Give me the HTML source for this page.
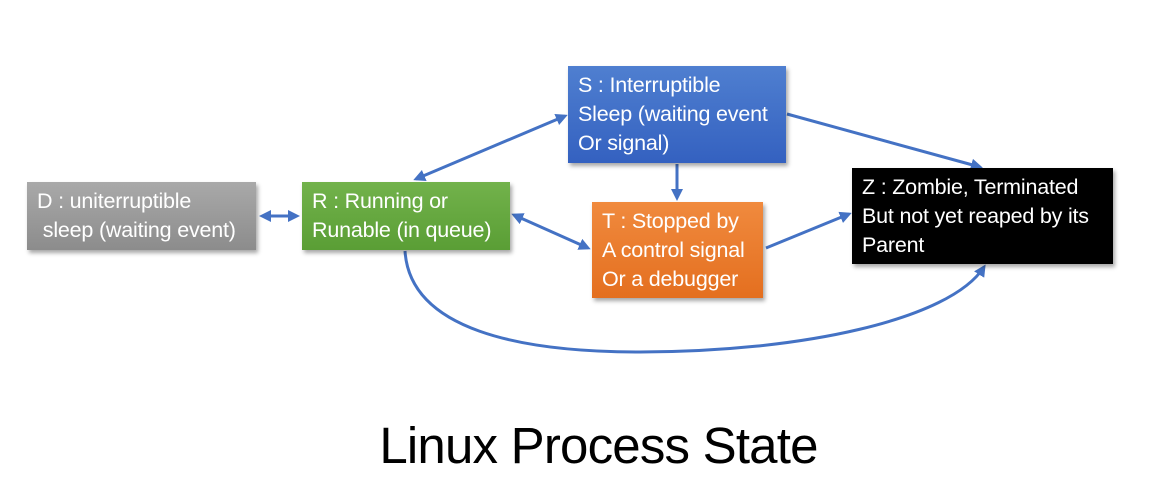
<!DOCTYPE html>
<html><head><meta charset="utf-8"><style>
html,body{margin:0;padding:0;background:#fff;}
body{width:1173px;height:488px;position:relative;overflow:hidden;font-family:"Liberation Sans",sans-serif;}
.b{position:absolute;box-sizing:border-box;color:#fff;font-size:21.5px;line-height:29px;padding:5px 10px;box-shadow:2px 3px 4px rgba(0,0,0,0.35);white-space:nowrap;letter-spacing:-0.2px;}
.t{position:absolute;left:12px;width:1173px;text-align:center;top:416px;font-size:51px;color:#000;letter-spacing:-0.8px;}
</style></head><body>
<svg width="1173" height="488" style="position:absolute;left:0;top:0">
<defs>
<marker id="m" markerWidth="12" markerHeight="12" refX="9" refY="6" orient="auto-start-reverse" markerUnits="userSpaceOnUse"><path d="M0,0 L12,6 L0,12 z" fill="#4472c4"/></marker></defs>
<g stroke="#4472c4" stroke-width="3" fill="none">
<line x1="262" y1="216" x2="297" y2="216" marker-start="url(#m)" marker-end="url(#m)"/>
<line x1="416" y1="179" x2="565" y2="116" marker-start="url(#m)" marker-end="url(#m)"/>
<line x1="514" y1="215" x2="588" y2="248" marker-start="url(#m)" marker-end="url(#m)"/>
<line x1="677" y1="164" x2="677" y2="198" marker-end="url(#m)"/>
<line x1="787" y1="114" x2="980" y2="167" marker-end="url(#m)"/>
<line x1="766" y1="248" x2="849" y2="214" marker-end="url(#m)"/>
<path d="M405,251 C410,330 520,352 640,352 C800,352 950,320 984,267" marker-end="url(#m)"/>
</g></svg>
<div class="b" style="left:27px;top:182px;width:229px;height:68px;background:linear-gradient(#a9a9a9,#8c8c8c);">D : uniterruptible<br>&nbsp;sleep (waiting event)</div>
<div class="b" style="left:302px;top:182px;width:208px;height:68px;background:linear-gradient(#72b24b,#5a9e35);">R : Running or<br>Runable (in queue)</div>
<div class="b" style="left:568px;top:66px;width:218px;height:97px;background:linear-gradient(#4f7fd0,#3461c0);">S : Interruptible<br>Sleep (waiting event<br>Or signal)</div>
<div class="b" style="left:592px;top:202px;width:171px;height:96px;background:linear-gradient(#f08a3e,#e46f1f);">T : Stopped by<br>A control signal<br>Or a debugger</div>
<div class="b" style="left:852px;top:168px;width:261px;height:96px;background:#000;">Z : Zombie, Terminated<br>But not yet reaped by its<br>Parent</div>
<div class="t">Linux Process State</div>
</body></html>
